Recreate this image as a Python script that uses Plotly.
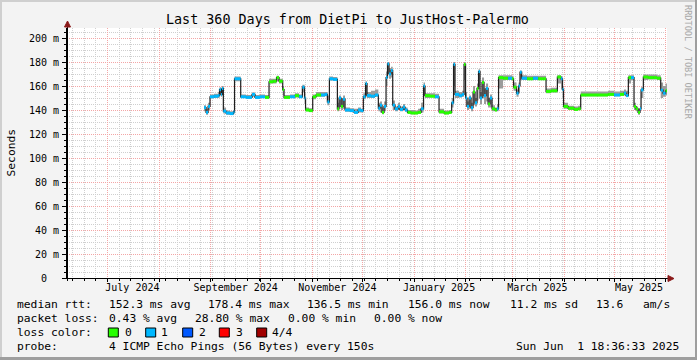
import plotly.graph_objects as go

# ---------------- data ----------------
dates = [
    "2024-08-28 00:00", "2024-08-29 05:00", "2024-08-30 10:00", "2024-08-31 14:00", "2024-09-03 00:00",
    "2024-09-05 10:00", "2024-09-06 07:00", "2024-09-07 05:00", "2024-09-07 19:00", "2024-09-08 14:00",
    "2024-09-10 05:00", "2024-09-12 14:00", "2024-09-14 17:00", "2024-09-15 07:00", "2024-09-19 00:00",
    "2024-09-22 05:00", "2024-09-25 19:00", "2024-09-27 14:00", "2024-09-30 14:00", "2024-10-03 14:00",
    "2024-10-06 00:00", "2024-10-08 10:00", "2024-10-10 12:00", "2024-10-12 00:00", "2024-10-14 05:00",
    "2024-10-15 00:00", "2024-10-18 14:00", "2024-10-21 14:00", "2024-10-24 00:00", "2024-10-26 00:00",
    "2024-10-27 07:00", "2024-10-27 22:00", "2024-10-30 00:00", "2024-11-01 05:00", "2024-11-03 05:00",
    "2024-11-06 05:00", "2024-11-08 14:00", "2024-11-10 00:00", "2024-11-11 05:00", "2024-11-13 10:00",
    "2024-11-16 00:00", "2024-11-17 00:00", "2024-11-18 05:00", "2024-11-19 10:00", "2024-11-20 14:00",
    "2024-11-23 14:00", "2024-11-26 00:00", "2024-11-28 10:00", "2024-11-30 05:00", "2024-12-01 14:00",
    "2024-12-02 22:00", "2024-12-03 19:00", "2024-12-06 05:00", "2024-12-08 14:00", "2024-12-10 14:00",
    "2024-12-11 14:00", "2024-12-12 19:00", "2024-12-14 00:00", "2024-12-15 05:00", "2024-12-16 02:00",
    "2024-12-17 00:00", "2024-12-18 05:00", "2024-12-19 05:00", "2024-12-20 14:00", "2024-12-22 10:00",
    "2024-12-23 14:00", "2024-12-25 10:00", "2024-12-26 14:00", "2024-12-28 02:00", "2024-12-30 05:00",
    "2025-01-01 14:00", "2025-01-03 10:00", "2025-01-05 05:00", "2025-01-06 17:00", "2025-01-07 14:00",
    "2025-01-10 14:00", "2025-01-13 14:00", "2025-01-16 00:00", "2025-01-19 00:00", "2025-01-22 00:00",
    "2025-01-23 14:00", "2025-01-24 17:00", "2025-01-25 14:00", "2025-01-28 00:00", "2025-01-29 19:00",
    "2025-01-31 00:00", "2025-01-31 22:00", "2025-02-01 19:00", "2025-02-03 00:00", "2025-02-04 05:00",
    "2025-02-05 10:00", "2025-02-06 14:00", "2025-02-07 19:00", "2025-02-08 17:00", "2025-02-09 14:00",
    "2025-02-10 19:00", "2025-02-12 00:00", "2025-02-13 05:00", "2025-02-14 10:00", "2025-02-15 14:00",
    "2025-02-16 19:00", "2025-02-18 14:00", "2025-02-19 19:00", "2025-02-20 17:00", "2025-02-23 10:00",
    "2025-02-26 10:00", "2025-02-28 19:00", "2025-03-01 17:00", "2025-03-03 12:00", "2025-03-04 17:00",
    "2025-03-05 14:00", "2025-03-06 14:00", "2025-03-09 19:00", "2025-03-13 10:00", "2025-03-16 10:00",
    "2025-03-19 10:00", "2025-03-21 05:00", "2025-03-24 05:00", "2025-03-28 00:00", "2025-03-30 05:00",
    "2025-03-31 02:00", "2025-03-31 17:00", "2025-04-03 10:00", "2025-04-07 00:00", "2025-04-09 10:00",
    "2025-04-11 00:00", "2025-04-16 14:00", "2025-04-22 14:00", "2025-04-27 10:00", "2025-05-01 00:00",
    "2025-05-04 14:00", "2025-05-07 00:00", "2025-05-08 05:00", "2025-05-09 14:00", "2025-05-11 05:00",
    "2025-05-13 00:00", "2025-05-14 05:00", "2025-05-15 10:00", "2025-05-16 14:00", "2025-05-17 05:00",
    "2025-05-18 14:00", "2025-05-21 10:00", "2025-05-24 10:00", "2025-05-26 19:00", "2025-05-29 00:00",
    "2025-05-30 10:00", "2025-05-31 22:00", "2025-06-01 18:00",
]
median_ms = [
    142, 138, 143, 151, 151.5, 152, 157, 153, 158, 139,
    137.5, 137, 138.5, 166, 151, 150.5, 153, 150.5, 151, 150.5,
    163.5, 164, 167, 164, 157, 150.5, 151, 152, 151, 159,
    150, 140, 139.5, 151, 152.5, 152.5, 153, 146.7, 166, 165.5,
    141, 150, 143, 149, 140, 139.5, 138, 140, 139.5, 151,
    162, 152, 151.5, 152.5, 141.5, 144, 138, 143, 167, 178.4,
    170, 173, 144, 141, 143, 140.5, 142.5, 140, 138, 137.5,
    137.5, 138, 141, 160, 152, 151.5, 151, 138.5, 137.5, 138,
    146, 178, 153, 152, 153, 178, 150, 143, 150, 142,
    155, 146, 158, 172, 150, 163, 152, 158, 145, 150,
    141, 140, 141, 167, 166.5, 166.5, 166, 159, 154, 160,
    171.5, 166.5, 166, 166.5, 166, 166, 155.5, 156, 167.5, 166,
    157, 143, 141.5, 140.5, 141, 152.5, 152.5, 152.5, 153, 152.5,
    153, 154, 152, 167, 167, 142.8, 141, 138, 141, 156.7,
    167.5, 167, 167, 166.5, 156.5, 154, 156, 156,
]
smoke_hi_ms = [
    144, 141, 146, 153, 153.5, 155, 159, 158, 160, 142,
    139.5, 139, 140, 168, 153, 152.5, 154.5, 152.5, 153, 152.5,
    166, 166, 168.5, 166, 160, 152.5, 153, 154, 153, 161,
    155, 142, 141.5, 153, 155, 155, 155, 152, 168, 167.5,
    146, 152, 150, 152, 142, 141.5, 141, 142, 141, 154,
    164, 155, 156, 157, 146, 147, 142, 147, 172, 180,
    175, 176, 148, 143, 146, 143, 145, 142, 140, 140,
    139.5, 141, 146, 163, 154, 154, 153.5, 141, 139.5, 140,
    150, 180, 156, 155, 156, 180, 155, 147, 152, 146,
    160, 150, 162, 174, 155, 167, 158, 162, 150, 153,
    144, 142, 145, 169, 169, 169, 168.5, 163, 157, 163,
    173, 169, 168.5, 168.5, 168.5, 168.5, 158, 158.5, 169, 168,
    160, 146, 143.5, 143, 143.5, 155.5, 155.5, 155.5, 156, 155.5,
    156, 157, 156, 169, 169, 146, 143, 141, 143, 159,
    169.5, 169.5, 169.5, 169, 163, 160, 162, 162,
]
smoke_lo_ms = [
    139, 136, 140, 150, 150, 150, 152, 151, 152, 137,
    136, 136, 137, 164, 150, 149.5, 151, 149.5, 150, 149.5,
    162, 162, 164, 162, 152, 149.5, 150, 150.5, 150, 155,
    145, 139, 138.5, 149, 151, 151, 151.5, 144, 164.5, 164.5,
    139, 142, 140, 141, 138.5, 138.5, 137, 138, 138, 149,
    152, 150, 150, 151, 139, 138, 136.5, 139, 160, 170,
    166, 167, 140, 139, 140, 139, 140, 138.5, 137, 136.5,
    136.5, 137, 138, 152, 150, 150.5, 150, 137, 136.5, 137,
    142, 160, 150, 150.5, 151, 165, 143, 140, 141, 139,
    144, 143, 148, 160, 145, 150, 145, 147, 142, 142,
    139, 139, 139, 158, 165, 165, 165, 156, 151, 154,
    165, 165, 165, 165, 165, 165, 154, 154.5, 162, 157,
    150, 141, 140, 139.5, 140, 151.5, 151.5, 151.5, 152, 151.5,
    152, 152, 151, 162, 165, 140, 139, 136, 139, 150,
    165, 165.5, 165.5, 165, 150, 151, 152, 152,
]
loss_pings = [
    1, 1, 1, 1, 1, 1, 1, 1, 1, 1,
    1, 1, 1, 1, 1, 1, 1, 1, 1, 0,
    0, 0, 0, 0, 0, 0, 1, 0, 1, 1,
    1, 0, 0, 0, 0, 1, 1, 1, 1, 1,
    0, 1, 0, 1, 1, 1, 1, 1, 1, 1,
    1, 1, 1, 1, 1, 1, 0, 1, 1, 1,
    1, 1, 1, 1, 1, 1, 1, 1, 0, 0,
    0, 0, 1, 1, 0, 0, 1, 0, 0, 0,
    1, 1, 1, 1, 1, 0, 1, 1, 1, 1,
    0, 1, 0, 1, 1, 0, 1, 1, 0, 1,
    0, 0, 1, 0, 0, 1, 0, 0, 1, 1,
    1, 1, 0, 1, 0, 0, 0, 0, 0, 1,
    1, 0, 0, 0, 0, 0, 0, 0, 0, 1,
    0, 1, 1, 0, 1, 0, 0, 0, 1, 1,
    0, 0, 0, 0, 1, 1, 0, 0,
]

loss_labels = ["0", "1", "2", "3", "4/4"]
loss_colors = ["#26ff00", "#00b8ff", "#0059ff", "#ff0000", "#a10000"]

y_tick_vals = [0, 20, 40, 60, 80, 100, 120, 140, 160, 180, 200]
y_tick_text = ["0\u00a0\u00a0", "20 m", "40 m", "60 m", "80 m", "100 m", "120 m",
               "140 m", "160 m", "180 m", "200 m"]
month_label_dates = ["2024-07-16", "2024-09-16", "2024-11-16", "2025-01-16", "2025-03-16", "2025-05-16"]
month_labels = ["July 2024", "September 2024", "November 2024", "January 2025", "March 2025", "May 2025"]

x_start = "2024-06-06 18:36:33"
x_end = "2025-06-01 18:36:33"

title_text = "Last 360 Days from DietPi to JustHost-Palermo"
legend_rows = [
    [("median rtt:", 16), ("152.3 ms avg", 107.7), ("178.4 ms max", 207.3), ("136.5 ms min", 305.5),
     ("156.0 ms now", 407.3), ("11.2 ms sd", 508.5), ("13.6", 595), ("am/s", 641.7)],
    [("packet loss:", 16), ("0.43 % avg", 107.7), ("28.80 % max", 194), ("0.00 % min", 287),
     ("0.00 % now", 373)],
    [("loss color:", 16)],
    [("probe:", 16), ("4 ICMP Echo Pings (56 Bytes) every 150s", 107.7),
     ("Sun Jun\u00a0\u00a01 18:36:33 2025", 515)],
]
legend_row_y = [304.3, 318.3, 332.3, 346]

# ---------------- figure ----------------
W, H = 697, 360
FONT = "DejaVu Sans Mono"


def px(x):
    return x / W


def py(y):
    return 1 - y / H


fig = go.Figure()

# smoke band
fig.add_trace(go.Scatter(x=dates, y=smoke_lo_ms, mode="lines",
                         line=dict(width=0, shape="hv"), hoverinfo="skip"))
fig.add_trace(go.Scatter(x=dates, y=smoke_hi_ms, mode="lines", fill="tonexty",
                         fillcolor="#9c9c9c", line=dict(width=0, shape="hv"), hoverinfo="skip"))
# median line
fig.add_trace(go.Scatter(x=dates, y=median_ms, mode="lines",
                         line=dict(color="#1e1e1e", width=1.2, shape="hv"), hoverinfo="skip"))
# coloured median segments by loss
for lvl in sorted(set(loss_pings)):
    xs, ys = [], []
    for i in range(len(dates) - 1):
        if loss_pings[i] == lvl:
            xs += [dates[i], dates[i + 1], None]
            ys += [median_ms[i], median_ms[i], None]
    fig.add_trace(go.Scatter(x=xs, y=ys, mode="lines",
                             line=dict(color=loss_colors[lvl], width=3), hoverinfo="skip"))

# invisible trace for the label axis
fig.add_trace(go.Scatter(x=month_label_dates, y=[None] * len(month_label_dates),
                         xaxis="x2", mode="markers", hoverinfo="skip"))

xdom = [px(67), px(667)]
ydom = [py(278), py(28)]

fig.update_layout(
    width=W, height=H,
    margin=dict(l=0, r=0, t=0, b=0, autoexpand=False),
    paper_bgcolor="#f3f3f3", plot_bgcolor="#ffffff",
    showlegend=False, hovermode=False,
    font=dict(family=FONT, color="#000000"),
    xaxis=dict(
        type="date", domain=xdom, range=[x_start, x_end], anchor="y",
        dtick="M1", tick0="2024-07-01",
        showgrid=True, gridcolor="#f3a6a6", griddash="1px,1px", gridwidth=1,
        showticklabels=False, ticks="outside", ticklen=3, tickcolor="#000000",
        minor=dict(dtick=7 * 86400000, tick0="2024-07-01", showgrid=True,
                   gridcolor="#cfcfcf", griddash="1px,1px", ticks="outside", ticklen=2,
                   tickcolor="#000000"),
        showline=True, linecolor="#000000", linewidth=1, zeroline=False, fixedrange=True,
    ),
    xaxis2=dict(
        type="date", domain=xdom, range=[x_start, x_end], overlaying="x", anchor="y",
        side="bottom", tickmode="array", tickvals=month_label_dates, ticktext=month_labels,
        showgrid=False, ticks="", showline=False, zeroline=False,
        tickfont=dict(family=FONT, size=10, color="#000000"), ticklabelstandoff=2,
    ),
    yaxis=dict(
        domain=ydom, range=[0, 208.333], tickmode="array", tickvals=y_tick_vals,
        ticktext=y_tick_text, showgrid=True, gridcolor="#f3a6a6", griddash="1px,1px",
        ticks="outside", ticklen=4, tickcolor="#000000",
        minor=dict(dtick=5, showgrid=True, gridcolor="#cfcfcf", griddash="1px,1px",
                   ticks="outside", ticklen=2, tickcolor="#000000"),
        tickfont=dict(family=FONT, size=10, color="#000000"), ticklabelstandoff=1,
        showline=True, linecolor="#000000", linewidth=1, zeroline=False, fixedrange=True,
    ),
)

shapes = []
# frame borders
shapes.append(dict(type="rect", xref="paper", yref="paper", x0=0, x1=1, y0=py(2), y1=1,
                   line=dict(width=0), fillcolor="#cfcfcf", layer="above"))
shapes.append(dict(type="rect", xref="paper", yref="paper", x0=0, x1=px(2), y0=0, y1=1,
                   line=dict(width=0), fillcolor="#cfcfcf", layer="above"))
shapes.append(dict(type="rect", xref="paper", yref="paper", x0=0, x1=1, y0=0, y1=py(357),
                   line=dict(width=0), fillcolor="#9e9e9e", layer="above"))
shapes.append(dict(type="rect", xref="paper", yref="paper", x0=px(695), x1=1, y0=0, y1=1,
                   line=dict(width=0), fillcolor="#9e9e9e", layer="above"))
# axis extensions and arrows
shapes.append(dict(type="line", xref="paper", yref="paper", x0=px(63), x1=px(669),
                   y0=py(278.5), y1=py(278.5), line=dict(color="#000000", width=1), layer="above"))
shapes.append(dict(type="line", xref="paper", yref="paper", x0=px(67.5), x1=px(67.5),
                   y0=py(281), y1=py(25), line=dict(color="#000000", width=1), layer="above"))
shapes.append(dict(type="path", xref="paper", yref="paper",
                   path=f"M {px(64.5)},{py(27)} L {px(70.5)},{py(27)} L {px(67.5)},{py(21)} Z",
                   fillcolor="#8b1a1a", line=dict(color="#8b1a1a", width=1), layer="above"))
shapes.append(dict(type="path", xref="paper", yref="paper",
                   path=f"M {px(668)},{py(275.5)} L {px(668)},{py(281.5)} L {px(674)},{py(278.5)} Z",
                   fillcolor="#8b1a1a", line=dict(color="#8b1a1a", width=1), layer="above"))
# loss colour boxes
box_x = [108.3, 145.7, 182.7, 219.3, 256.7]
for bx, col in zip(box_x, loss_colors):
    shapes.append(dict(type="rect", xref="paper", yref="paper", x0=px(bx), x1=px(bx + 10),
                       y0=py(337), y1=py(328), fillcolor=col,
                       line=dict(color="#000000", width=1), layer="above"))
fig.update_layout(shapes=shapes)

ann = []
ann.append(dict(text=title_text, x=px(347.5), y=py(19), xref="paper", yref="paper",
                showarrow=False, xanchor="center", yanchor="middle",
                font=dict(family=FONT, size=13.4, color="#000000")))
ann.append(dict(text="Seconds", x=px(10.5), y=py(153), xref="paper", yref="paper",
                showarrow=False, textangle=-90, xanchor="center", yanchor="middle",
                font=dict(family=FONT, size=11.3, color="#000000")))
ann.append(dict(text="RRDTOOL / TOBI OETIKER", x=px(688), y=py(62), xref="paper", yref="paper",
                showarrow=False, textangle=90, xanchor="center", yanchor="middle",
                font=dict(family=FONT, size=8.6, color="#a8a8a8")))
for row, yrow in zip(legend_rows, legend_row_y):
    for txt, xx in row:
        ann.append(dict(text=txt.replace(" ", "\u00a0"), x=px(xx - 1), y=py(yrow),
                        xref="paper", yref="paper", showarrow=False,
                        xanchor="left", yanchor="middle",
                        font=dict(family=FONT, size=11.3, color="#000000")))
label_x = [123.7, 160.3, 197.7, 235, 271]
for lab, xx in zip(loss_labels, label_x):
    ann.append(dict(text=lab, x=px(xx - 1), y=py(legend_row_y[2]), xref="paper", yref="paper",
                    showarrow=False, xanchor="left", yanchor="middle",
                    font=dict(family=FONT, size=11.3, color="#000000")))
fig.update_layout(annotations=ann)

fig.write_html("out.html",
               config={"displayModeBar": False, "staticPlot": True},
               post_script="document.body.style.margin='0';document.body.style.overflow='hidden';")
